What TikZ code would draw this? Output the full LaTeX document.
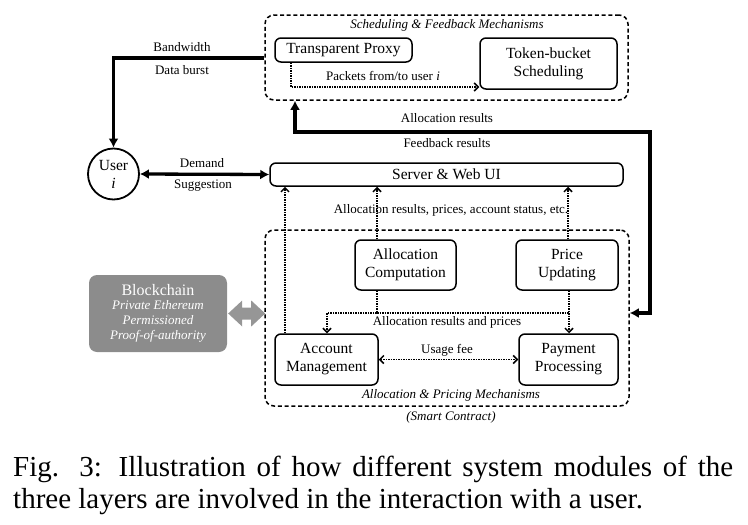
\documentclass[tikz,border=0pt]{standalone}
\usepackage{fontspec}
\setmainfont{Liberation Serif}
\usetikzlibrary{arrows.meta}
\definecolor{bcgray}{RGB}{140,140,140}
\definecolor{bcarrowgray}{RGB}{150,150,150}
\begin{document}
\begin{tikzpicture}[x=1pt,y=-1pt,
  box/.style={draw, line width=1.5pt, rounded corners=6pt, align=center, inner sep=0pt,
    font=\fontsize{15.5}{18}\selectfont},
  dbox/.style={draw, line width=1.5pt, dash pattern=on 4pt off 2.7pt, rounded corners=9pt, inner sep=0pt},
  lbl/.style={inner sep=0pt, font=\fontsize{13}{15}\selectfont},
  ilbl/.style={inner sep=0pt, font=\fontsize{13}{15}\selectfont\itshape},
  thk/.style={line width=3.3pt, line join=miter, -{Latex[length=9pt,width=10pt]}},
  dtip/.tip={Straight Barb[length=4pt,width=8pt,line width=1.5pt]},
  dotarr/.style={line width=1.5pt, dash pattern=on 1.5pt off 1pt, -dtip},
  dotline/.style={line width=1.5pt, dash pattern=on 1.5pt off 1pt}
]
\useasboundingbox (0,0) rectangle (748,525);

% containers
\node[dbox, minimum width=363pt, minimum height=85pt] (sched) at (446.5,57.5) {};
\node[ilbl] (schedtitle) at (447,25) {Scheduling \& Feedback Mechanisms};
\node[dbox, minimum width=364pt, minimum height=176pt] (apm) at (447,318) {};
\node[ilbl] (apmtitle) at (451,395) {Allocation \& Pricing Mechanisms};
\node[ilbl] (smart) at (451,417) {(Smart Contract)};

% boxes
\node[box, minimum width=137pt, minimum height=24pt] (proxy) at (343.5,50) {Transparent Proxy};
\node[box, minimum width=137pt, minimum height=51pt] (token) at (548.5,63.5) {Token-bucket\\Scheduling};
\node[draw, circle, line width=1.8pt, minimum size=51pt, inner sep=0pt, align=center,
  font=\fontsize{15.5}{18}\selectfont] (user) at (113.5,174) {User\\\textit{i}};
\node[box, minimum width=353pt, minimum height=23pt] (server) at (446.5,174.5) {Server \& Web UI};
\node[box, minimum width=101pt, minimum height=50pt] (allocc) at (405.5,265) {Allocation\\Computation};
\node[box, minimum width=102pt, minimum height=50pt] (price) at (567,265) {Price\\Updating};
\node[box, minimum width=103pt, minimum height=51pt] (account) at (326.5,359.5) {Account\\Management};
\node[box, minimum width=99pt, minimum height=51pt] (payment) at (568.5,359.5) {Payment\\Processing};
\node[fill=bcgray, rounded corners=8pt, minimum width=138pt, minimum height=77pt, inner sep=0pt,
  text=white, align=center, font=\fontsize{13}{15}\selectfont] (bc) at (158,313.5)
  {{\fontsize{16}{18}\selectfont Blockchain}\\[-1pt]\textit{Private Ethereum}\\\textit{Permissioned}\\\textit{Proof-of-authority}};

% fat grey double arrow between blockchain and contract layer
\fill[bcarrowgray] (bc.east) ++(1,0) -- ++(14,-13) -- ++(0,7) -- ++(9,0) -- ++(0,-7)
  -- ++(14,13) -- ++(-14,13) -- ++(0,-7) -- ++(-9,0) -- ++(0,7) -- cycle;

% labels
\node[lbl] (packets) at (383,76) {Packets from/to user \textit{i}};
\node[lbl] (alres) at (447,118) {Allocation results};
\node[lbl] (fbres) at (447,143) {Feedback results};
\node[lbl] (bwlbl) at (182,47) {Bandwidth};
\node[lbl] (dblbl) at (182,70) {Data burst};
\node[lbl] (demand) at (202,163) {Demand};
\node[lbl] (suggest) at (203,186) {Suggestion};
\node[lbl] (arpa) at (451,210) {Allocation results, prices, account status, etc.};
\node[lbl] (arp) at (447,322) {Allocation results and prices};
\node[lbl] (usage) at (447,350) {Usage fee};

% coordinates
\coordinate (p1) at (291,87);
\coordinate (fb1) at (295,132);
\coordinate (fb2) at (650,313);
\coordinate (bw) at (113.5,58);
\coordinate (d1) at (285,0);
\coordinate (d2) at (377,0);
\coordinate (d3) at (568,0);
\coordinate (a1) at (377,313);
\coordinate (a2) at (327,313);
\coordinate (a3) at (569,313);

% connectors
\draw[dotarr] (proxy.south -| p1) -- (p1) -- (token.west |- p1);
\draw[thk, {Latex[length=9pt,width=10pt]}-{Latex[length=9pt,width=10pt]}]
  (sched.south -| fb1) -- (fb1) -- (fb1 -| fb2) -- (fb2) -- (apm.east |- fb2);
\draw[thk] (sched.west |- bw) -- (bw) -- (user.north);
\draw[thk, {Latex[length=9pt,width=10pt]}-{Latex[length=9pt,width=10pt]}] (user.east) -- (server.west);
\draw[dotarr] (account.north -| d1) -- (server.south -| d1);
\draw[dotarr] (allocc.north -| d2) -- (server.south -| d2);
\draw[dotarr] (price.north -| d3) -- (server.south -| d3);
\draw[dotarr] (allocc.south -| a1) -- (a1) -- (a2) -- (account.north -| a2);
\draw[dotline] (a1) -- (a3);
\draw[dotarr] (price.south -| a3) -- (payment.north -| a3);
\draw[dotarr, dtip-dtip] (account.east) -- (payment.west);

% caption
\node[anchor=base west, inner sep=0pt] (caption) at (13,476)
  {\parbox[t]{720pt}{\fontsize{29}{32}\selectfont Fig. 3: Illustration of how different system modules of the three layers are involved in the interaction with a user.}};
\end{tikzpicture}
\end{document}
